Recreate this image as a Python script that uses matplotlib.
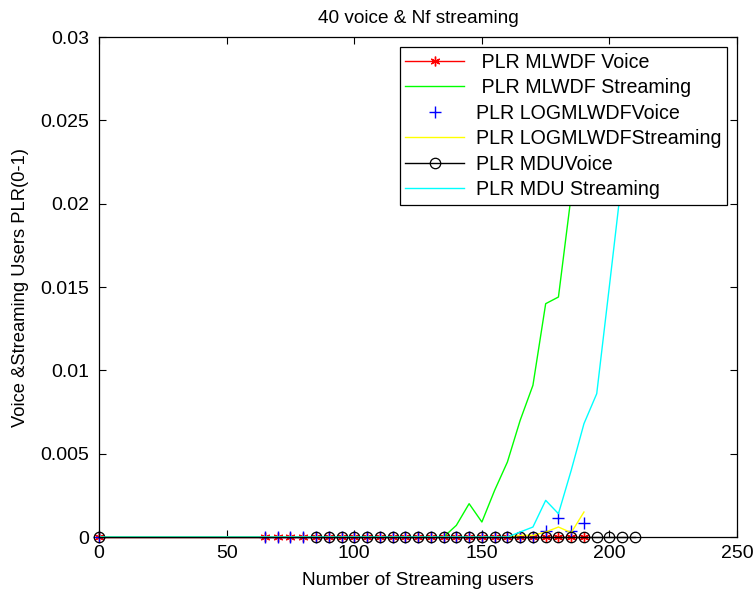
import matplotlib
matplotlib.use("Agg")
import matplotlib.pyplot as plt

plt.rcParams["font.family"] = ["Liberation Sans", "DejaVu Sans"]

# number of streaming users for each scheduler run
users_mlwdf = [0, 65, 70, 75, 80, 85, 90, 95, 100, 105, 110, 115, 120, 125,
               130, 135, 140, 145, 150, 155, 160, 165, 170, 175, 180, 185, 190]
users_mdu = [0, 85, 90, 95, 100, 105, 110, 115, 120, 125, 130, 135, 140, 145,
             150, 155, 160, 165, 170, 175, 180, 185, 190, 195, 200, 205, 210]

# packet loss ratios
plr_mlwdf_voice = [0.0] * 27
plr_mlwdf_stream = [0, 0, 0, 0, 0, 0, 0, 0, 0, 0, 0, 0, 0, 0, 0, 0,
                    0.0007, 0.0020, 0.0009, 0.0028, 0.0045, 0.0070,
                    0.0091, 0.0140, 0.0144, 0.0205, 0.0260]
plr_log_voice = [0, 0, 0, 0, 0, 0, 0, 0, 0, 0, 0, 0, 0, 0, 0, 0, 0, 0, 0,
                 0, 0, 0, 0, 0.00036, 0.00112, 0.00036, 0.00082]
plr_log_stream = [0, 0, 0, 0, 0, 0, 0, 0, 0, 0, 0, 0, 0, 0, 0, 0, 0, 0, 0,
                  0, 0, 0.0001, 0.0001, 0.0003, 0.0006, 0.00026, 0.0015]
plr_mdu_voice = [0.0] * 27
plr_mdu_stream = [0, 0, 0, 0, 0, 0, 0, 0, 0, 0, 0, 0, 0, 0, 0, 0, 0,
                  0.0003, 0.0006, 0.0022, 0.0014, 0.0040, 0.0068, 0.0086,
                  0.0151, 0.0217, 0.0270]

x_ticks = [0, 50, 100, 150, 200, 250]
y_ticks = [0, 0.005, 0.01, 0.015, 0.02, 0.025, 0.03]
y_tick_labels = ["0", "0.005", "0.01", "0.015", "0.02", "0.025", "0.03"]

fs = 13.7
asterisk = (6, 2, 0)

fig = plt.figure(figsize=(7.56, 5.93), dpi=100)
ax = fig.add_axes([0.131, 0.0944, 0.844, 0.8432])

ax.plot(users_mlwdf, plr_mlwdf_voice, color="red", lw=1.0, marker=asterisk,
        ms=7, mew=1.0, clip_on=False, label=" PLR MLWDF Voice")
ax.plot(users_mlwdf, plr_mlwdf_stream, color="#00ff00", lw=1.0,
        label=" PLR MLWDF Streaming")
ax.plot(users_mlwdf, plr_log_voice, color="blue", lw=0, marker="+",
        ms=8, mew=1.0, clip_on=False, label="PLR LOGMLWDFVoice")
ax.plot(users_mlwdf, plr_log_stream, color="#ffff00", lw=1.0,
        label="PLR LOGMLWDFStreaming")
ax.plot(users_mdu, plr_mdu_voice, color="black", lw=1.0, marker="o",
        ms=7.5, mfc="none", mew=0.9, clip_on=False, label="PLR MDUVoice")
ax.plot(users_mdu, plr_mdu_stream, color="cyan", lw=1.0,
        label="PLR MDU Streaming")

ax.set_xlim(0, 250)
ax.set_ylim(0, 0.03)
ax.set_xticks(x_ticks)
ax.set_yticks(y_ticks)
ax.set_yticklabels(y_tick_labels)
ax.tick_params(direction="in", top=True, right=True, labelsize=fs + 0.3,
               length=5, width=0.8)
ax.tick_params(axis="x", pad=6)
ax.tick_params(axis="y", pad=7)
for s in ax.spines.values():
    s.set_linewidth(0.9)

ax.set_title("40 voice & Nf streaming", fontsize=fs, pad=10)
ax.set_xlabel("Number of Streaming users", fontsize=fs, labelpad=7)
ax.set_ylabel("Voice &Streaming Users PLR(0-1)", fontsize=fs - 0.5,
              labelpad=8)

leg = ax.legend(loc="upper right", fontsize=fs + 0.4, fancybox=False,
                framealpha=1, edgecolor="black", handlelength=3.0,
                borderaxespad=0.5, labelspacing=0.33, borderpad=0.3,
                handletextpad=0.6)
leg.get_frame().set_linewidth(0.9)
leg.set_zorder(5)

fig.savefig("out.png", dpi=100)
